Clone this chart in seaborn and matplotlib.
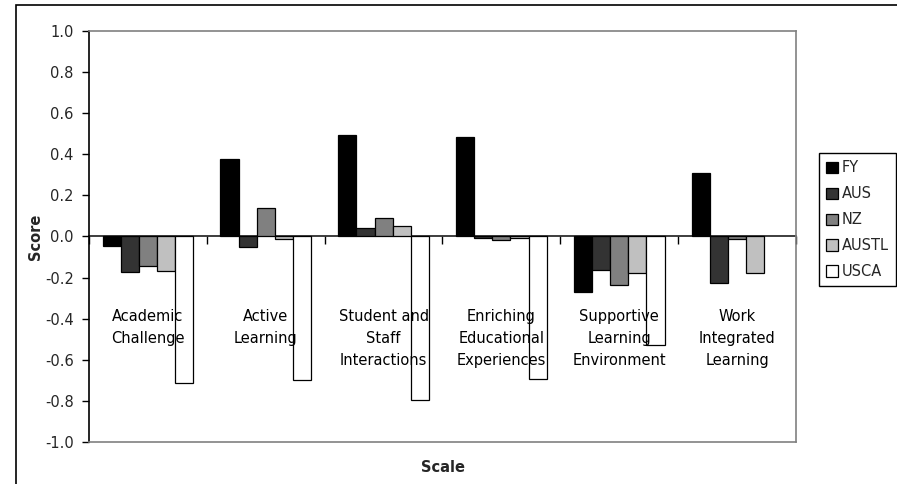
import numpy as np
import pandas as pd
import matplotlib
matplotlib.use("Agg")
import matplotlib.pyplot as plt
from matplotlib.patches import Rectangle
import seaborn as sns

# ── Data ──────────────────────────────────────────────────
scales = [
    "Academic\nChallenge",
    "Active\nLearning",
    "Student and\nStaff\nInteractions",
    "Enriching\nEducational\nExperiences",
    "Supportive\nLearning\nEnvironment",
    "Work\nIntegrated\nLearning",
]
series = ["FY", "AUS", "NZ", "AUSTL", "USCA"]

fy    = [-0.046, 0.377, 0.496, 0.483, -0.271, 0.311]
aus   = [-0.174, -0.049, 0.039, -0.005, -0.162, -0.224]
nz    = [-0.143, 0.141, 0.092, -0.018, -0.237, -0.013]
austl = [-0.167, -0.012, 0.050, -0.008, -0.177, -0.180]
usca  = [-0.713, -0.699, -0.798, -0.694, -0.529, np.nan]

colors = ["#000000", "#333333", "#808080", "#C0C0C0", "#FFFFFF"]
yticks = np.round(np.linspace(-1.0, 1.0, 11), 1) + 0.0

values = {"FY": fy, "AUS": aus, "NZ": nz, "AUSTL": austl, "USCA": usca}
df = pd.DataFrame(
    [(s, name, v) for name in series for s, v in zip(scales, values[name])],
    columns=["scale", "series", "score"],
)

sns.set_theme(style="white")
plt.rcParams["font.family"] = ["DejaVu Sans"]
plt.rcParams["axes.unicode_minus"] = False

# ── Figure ────────────────────────────────────────────────
fig = plt.figure(figsize=(8.97, 4.84), dpi=100)
ax = fig.add_axes([89 / 897, 1 - 442 / 484, 707 / 897, 411 / 484])

sns.barplot(data=df, x="scale", y="score", hue="series", hue_order=series,
            order=scales, palette=colors, saturation=1, width=0.77,
            edgecolor="black", linewidth=0.9, ax=ax)

ax.set_ylim(-1.0, 1.0)
ax.set_xlim(-0.5, len(scales) - 0.5)
ax.set_yticks(yticks)
ax.set_yticklabels([f"{v:.1f}" for v in yticks], fontsize=10.5)
ax.tick_params(axis="y", direction="out", length=5, width=1, color="black",
               left=True, pad=6)
ax.set_xticks([])
ax.set_xlabel("")
ax.set_ylabel("Score", fontsize=10.5, fontweight="bold", labelpad=1.5)

for side in ["top", "right", "bottom"]:
    ax.spines[side].set_color("#808080")
    ax.spines[side].set_linewidth(1.2)
ax.spines["left"].set_color("black")
ax.spines["left"].set_linewidth(1.2)

# zero axis with boundary ticks pointing down
zero = ax.secondary_xaxis(0.5)
zero.set_xticks(np.arange(-0.5, len(scales), 1.0))
zero.set_xticklabels([])
zero.tick_params(direction="in", length=6, width=1, color="black")
zero.spines["bottom"].set_color("black")
zero.spines["bottom"].set_linewidth(1.2)

# category labels sit just below the zero line
for i, s in enumerate(scales):
    ax.text(i, -0.355, s, ha="center", va="top", fontsize=10.5,
            linespacing=1.55, color="black")

fig.text((89 + 796) / 2 / 897, 1 - 467 / 484, "Scale", ha="center",
         va="center", fontsize=10.5, fontweight="bold")

handles, labels = ax.get_legend_handles_labels()
ax.legend(handles, labels, loc="upper left",
          bbox_to_anchor=(819 / 897, 1 - 153 / 484),
          bbox_transform=fig.transFigure, frameon=True, fontsize=10.5,
          fancybox=False, edgecolor="black", framealpha=1,
          handlelength=0.8, handleheight=0.8, handletextpad=0.25,
          labelspacing=0.75, borderpad=0.5, borderaxespad=0)
ax.get_legend().get_frame().set_linewidth(1.0)

# outer chart border
fig.add_artist(Rectangle((16 / 897, -0.1), 2, (1 - 5 / 484) + 0.1,
                         transform=fig.transFigure, fill=False,
                         edgecolor="black", linewidth=1.2))

fig.savefig("out.png", dpi=100)
